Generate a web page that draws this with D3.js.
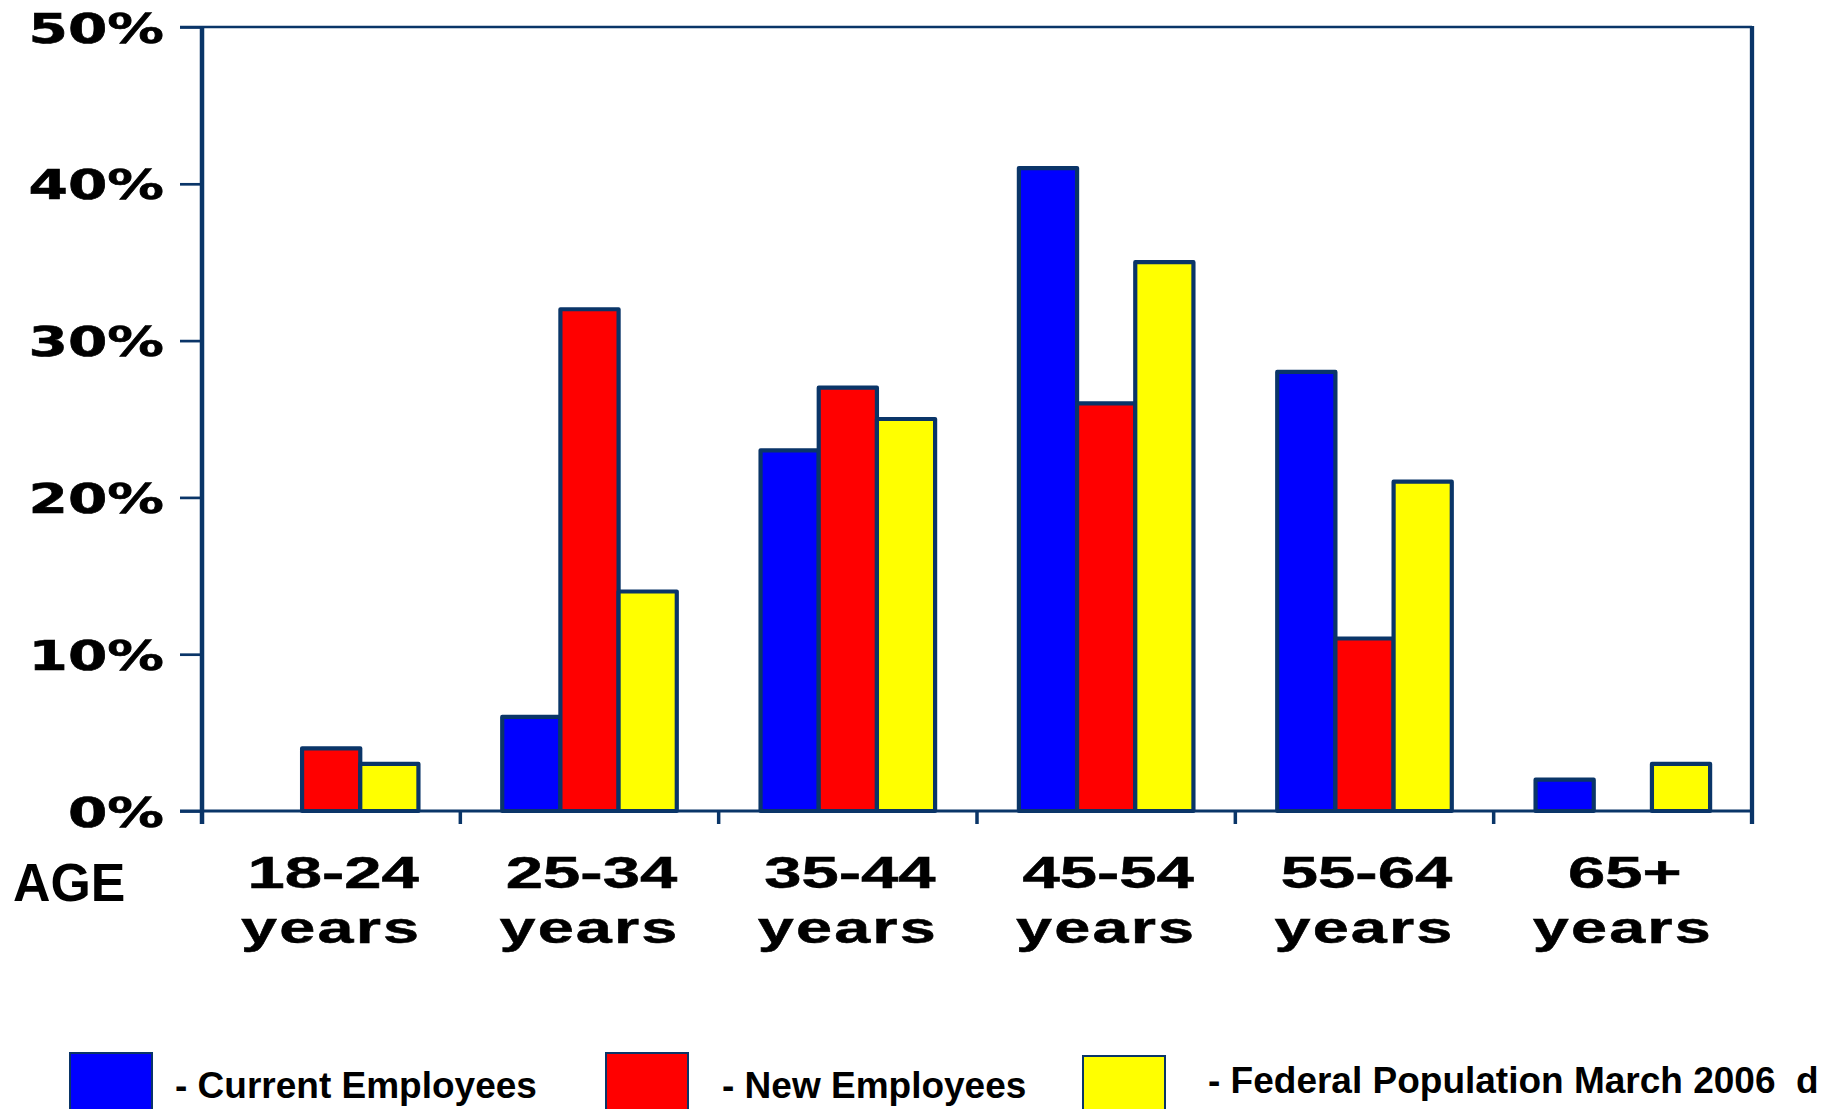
<!DOCTYPE html>
<html>
<head>
<meta charset="utf-8">
<script src="https://cdn.jsdelivr.net/npm/d3@7"></script>
<style>
  html, body { margin: 0; padding: 0; background: #ffffff; }
  svg { display: block; }
</style>
</head>
<body>
<svg id="chart" width="1825" height="1109"></svg>
<script>
// Age groups (two-line labels)
const ageRange = ["18-24", "25-34", "35-44", "45-54", "55-64", "65+"];
const ageUnit = "years";

// Share of each population in each age group, percent
const currentEmployees = [0, 6, 23, 41, 28, 2];
const newEmployees = [4, 32, 27, 26, 11, 0];
const federalPopulation = [3, 14, 25, 35, 21, 3];

const seriesNames = ["Current Employees", "New Employees", "Federal Population March 2006  d"];
const seriesColors = ["#0000ff", "#ff0000", "#ffff00"];

const yTicks = [0, 10, 20, 30, 40, 50];

// Layout
const W = 1825, H = 1109;
const plot = { left: 202, right: 1752, top: 27, bottom: 811 };
const navy = "#0a3568";

const svg = d3.select("#chart");
svg.append("rect").attr("width", W).attr("height", H).attr("fill", "#fff");

const x0 = d3.scaleBand().domain(ageRange).range([plot.left, plot.right]).padding(0);
const x1 = d3.scaleBand().domain(seriesNames).range([0, x0.bandwidth()])
  .paddingInner(0).paddingOuter(0.72);
const y = d3.scaleLinear().domain([0, 50]).range([plot.bottom, plot.top]);

const seriesValues = [currentEmployees, newEmployees, federalPopulation];
const barData = [];
ageRange.forEach((cat, i) => {
  seriesNames.forEach((s, j) => {
    barData.push({ cat, series: s, color: seriesColors[j], value: seriesValues[j][i] });
  });
});

// Bars
svg.append("g").selectAll("rect")
  .data(barData.filter(d => d.value > 0))
  .join("rect")
  .attr("x", d => x0(d.cat) + x1(d.series))
  .attr("y", d => y(d.value))
  .attr("width", x1.bandwidth())
  .attr("height", d => y(0) - y(d.value))
  .attr("fill", d => d.color)
  .attr("stroke", navy)
  .attr("stroke-width", 4.2)
  .attr("stroke-linejoin", "round");

// Y axis ticks and labels
const yAxis = d3.axisLeft(y).tickValues(yTicks).tickSize(22).tickPadding(0).tickFormat(d => d + "%");
const gy = svg.append("g").attr("transform", `translate(${plot.left},0)`).call(yAxis);
gy.select(".domain").remove();
gy.selectAll(".tick line").attr("stroke", navy).attr("stroke-width", 2.7);
gy.selectAll(".tick text")
  .attr("x", null).attr("dy", null)
  .attr("transform", "translate(-38,15) scale(1.38,1)")
  .attr("text-anchor", "end")
  .attr("fill", "#000")
  .attr("stroke", "#000")
  .attr("stroke-width", 0.6)
  .style("font-family", "'DejaVu Sans', sans-serif")
  .style("font-weight", "bold")
  .style("font-size", "41px");

// Frame: top, right, baseline, left
const frame = svg.append("g").attr("stroke", navy).attr("fill", "none");
frame.append("line").attr("x1", plot.left - 22).attr("x2", plot.right).attr("y1", plot.top).attr("y2", plot.top).attr("stroke-width", 2.7);
frame.append("line").attr("x1", plot.left - 22).attr("x2", plot.right).attr("y1", plot.bottom).attr("y2", plot.bottom).attr("stroke-width", 3);
frame.append("line").attr("x1", plot.left).attr("x2", plot.left).attr("y1", plot.top - 1).attr("y2", plot.bottom + 13).attr("stroke-width", 4.5);
frame.append("line").attr("x1", plot.right).attr("x2", plot.right).attr("y1", plot.top - 1).attr("y2", plot.bottom + 13).attr("stroke-width", 4.3);

// Category boundary ticks below the baseline
const edges = ageRange.map(c => x0(c)).concat([x0.range()[1]]);
frame.selectAll("line.xtick").data(edges).join("line")
  .attr("class", "xtick")
  .attr("x1", d => d).attr("x2", d => d)
  .attr("y1", plot.bottom).attr("y2", plot.bottom + 13)
  .attr("stroke-width", 3.5);

// Category labels
const labels = svg.append("g")
  .style("font-family", "'Liberation Sans', Arial, sans-serif")
  .style("font-weight", "bold")
  .style("font-size", "45px")
  .attr("fill", "#000")
  .attr("stroke", "#000")
  .attr("stroke-width", 0.5);
ageRange.forEach(c => {
  const cx = x0(c) + x0.bandwidth() / 2;
  labels.append("text")
    .attr("transform", `translate(${cx + 2},888) scale(1.49,1)`)
    .attr("text-anchor", "middle")
    .text(c);
  labels.append("text")
    .attr("transform", `translate(${cx},943) scale(1.44,1)`)
    .attr("text-anchor", "middle")
    .attr("letter-spacing", "1.5")
    .text(ageUnit);
});

// Axis title
svg.append("text")
  .attr("transform", "translate(13,901) scale(0.96,1)")
  .style("font-family", "'Liberation Sans', Arial, sans-serif")
  .style("font-weight", "bold")
  .style("font-size", "54px")
  .attr("fill", "#000")
  .text("AGE");

// Legend
const legendBoxX = [70, 606, 1083];
const legendBoxTop = [1053, 1053, 1056];
const legendTextX = [175, 722, 1208];
const legendTextBaseline = [1098, 1098, 1093];
const legend = svg.append("g");
seriesNames.forEach((s, i) => {
  legend.append("rect")
    .attr("x", legendBoxX[i]).attr("y", legendBoxTop[i])
    .attr("width", 82).attr("height", 80)
    .attr("fill", seriesColors[i])
    .attr("stroke", navy).attr("stroke-width", 2);
  legend.append("text")
    .attr("x", legendTextX[i]).attr("y", legendTextBaseline[i])
    .style("font-family", "'Liberation Sans', Arial, sans-serif")
    .style("font-weight", "bold")
    .style("font-size", "37px")
    .style("white-space", "pre")
    .attr("fill", "#000")
    .text("- " + s);
});
</script>
</body>
</html>
